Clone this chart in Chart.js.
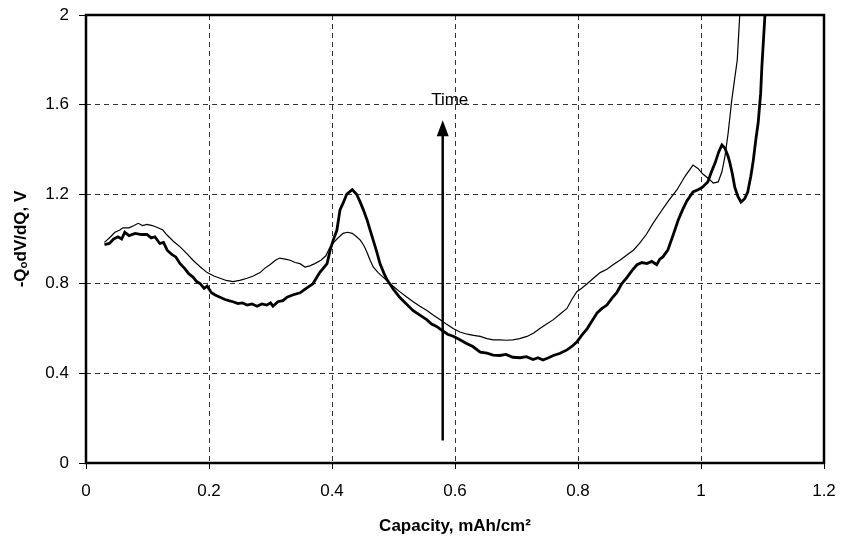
<!DOCTYPE html>
<html>
<head>
<meta charset="utf-8">
<script src="https://cdn.jsdelivr.net/npm/chart.js@4"></script>
<style>
    html, body { margin: 0; padding: 0; background: #fff; }
    #wrap { width: 842px; height: 542px; }
</style>
</head>
<body>
<div id="wrap"><canvas id="dqdv-chart" width="842" height="542"></canvas></div>
<script>
// Thin curve (later cycle)
const capacityThin = [
    0.030, 0.040, 0.047, 0.055, 0.060, 0.070, 0.078, 0.085, 0.092, 0.099,
    0.108, 0.117, 0.125, 0.131, 0.142, 0.153, 0.164, 0.174, 0.186, 0.197,
    0.208, 0.218, 0.228, 0.239, 0.250, 0.262, 0.272, 0.283, 0.291, 0.299,
    0.308, 0.315, 0.324, 0.332, 0.340, 0.348, 0.356, 0.364, 0.372, 0.382,
    0.390, 0.397, 0.403, 0.408, 0.418, 0.425, 0.433, 0.440, 0.446, 0.452,
    0.457, 0.462, 0.467, 0.475, 0.483, 0.491, 0.499, 0.510, 0.522, 0.532,
    0.543, 0.555, 0.565, 0.576, 0.586, 0.597, 0.608, 0.620, 0.630, 0.641,
    0.652, 0.662, 0.673, 0.683, 0.694, 0.705, 0.717, 0.728, 0.738, 0.749,
    0.760, 0.771, 0.782, 0.790, 0.798, 0.806, 0.815, 0.825, 0.836, 0.847,
    0.857, 0.868, 0.880, 0.890, 0.900, 0.911, 0.922, 0.933, 0.947, 0.961,
    0.974, 0.987, 0.995, 1.003, 1.012, 1.020, 1.028, 1.034, 1.039, 1.044,
    1.050, 1.059, 1.063, 1.068
];
const dvdqThin = [
    0.985, 1.010, 1.030, 1.040, 1.050, 1.050, 1.060, 1.070, 1.060, 1.065,
    1.060, 1.050, 1.040, 1.020, 0.990, 0.965, 0.935, 0.905, 0.875, 0.850,
    0.835, 0.825, 0.815, 0.810, 0.815, 0.825, 0.835, 0.850, 0.870, 0.885,
    0.905, 0.915, 0.910, 0.905, 0.895, 0.890, 0.875, 0.880, 0.890, 0.905,
    0.925, 0.965, 0.985, 1.000, 1.025, 1.030, 1.025, 1.010, 0.995, 0.970,
    0.940, 0.905, 0.875, 0.850, 0.830, 0.810, 0.790, 0.765, 0.740, 0.720,
    0.700, 0.680, 0.660, 0.640, 0.620, 0.600, 0.585, 0.575, 0.570, 0.565,
    0.555, 0.550, 0.550, 0.548, 0.550, 0.555, 0.565, 0.580, 0.600, 0.620,
    0.640, 0.665, 0.690, 0.730, 0.765, 0.780, 0.800, 0.825, 0.850, 0.865,
    0.885, 0.905, 0.930, 0.950, 0.980, 1.020, 1.070, 1.115, 1.170, 1.220,
    1.280, 1.330, 1.315, 1.290, 1.270, 1.250, 1.255, 1.300, 1.370, 1.470,
    1.620, 1.800, 2.000, 2.200
];

// Thick curve (earlier cycle)
const capacityThick = [
    0.030, 0.038, 0.045, 0.052, 0.058, 0.063, 0.070, 0.080, 0.090, 0.099,
    0.106, 0.112, 0.120, 0.126, 0.132, 0.140, 0.146, 0.153, 0.160, 0.167,
    0.174, 0.180, 0.186, 0.192, 0.197, 0.204, 0.210, 0.218, 0.226, 0.232,
    0.239, 0.247, 0.254, 0.262, 0.270, 0.278, 0.286, 0.294, 0.300, 0.304,
    0.312, 0.320, 0.327, 0.336, 0.348, 0.358, 0.369, 0.380, 0.392, 0.397,
    0.402, 0.408, 0.413, 0.418, 0.424, 0.433, 0.440, 0.445, 0.451, 0.457,
    0.462, 0.467, 0.473, 0.478, 0.484, 0.489, 0.500, 0.510, 0.521, 0.532,
    0.543, 0.554, 0.562, 0.570, 0.580, 0.588, 0.598, 0.608, 0.618, 0.629,
    0.641, 0.652, 0.662, 0.673, 0.683, 0.694, 0.706, 0.716, 0.727, 0.735,
    0.743, 0.752, 0.760, 0.771, 0.782, 0.790, 0.798, 0.806, 0.815, 0.823,
    0.831, 0.839, 0.847, 0.855, 0.863, 0.871, 0.880, 0.888, 0.896, 0.904,
    0.912, 0.920, 0.928, 0.933, 0.938, 0.946, 0.955, 0.963, 0.970, 0.977,
    0.987, 0.995, 1.002, 1.011, 1.017, 1.023, 1.029, 1.034, 1.039, 1.044,
    1.047, 1.051, 1.055, 1.060, 1.065, 1.071, 1.076, 1.081, 1.085, 1.089,
    1.093, 1.097, 1.099, 1.104, 1.108
];
const dvdqThick = [
    0.975, 0.980, 1.000, 1.010, 1.000, 1.030, 1.015, 1.025, 1.020, 1.020,
    1.005, 1.010, 0.980, 0.985, 0.950, 0.930, 0.920, 0.890, 0.870, 0.845,
    0.830, 0.810, 0.800, 0.780, 0.790, 0.760, 0.750, 0.740, 0.730, 0.725,
    0.720, 0.712, 0.715, 0.705, 0.710, 0.700, 0.710, 0.705, 0.715, 0.700,
    0.720, 0.725, 0.740, 0.750, 0.760, 0.780, 0.800, 0.850, 0.890, 0.950,
    0.995, 1.040, 1.130, 1.160, 1.200, 1.220, 1.200, 1.170, 1.130, 1.085,
    1.040, 0.995, 0.940, 0.890, 0.850, 0.820, 0.775, 0.740, 0.710, 0.680,
    0.660, 0.640, 0.620, 0.610, 0.590, 0.575, 0.565, 0.550, 0.535, 0.520,
    0.495, 0.490, 0.482, 0.480, 0.485, 0.472, 0.470, 0.475, 0.462, 0.470,
    0.460, 0.470, 0.480, 0.490, 0.505, 0.520, 0.540, 0.570, 0.600, 0.635,
    0.670, 0.690, 0.705, 0.735, 0.760, 0.800, 0.830, 0.860, 0.885, 0.895,
    0.890, 0.900, 0.885, 0.910, 0.920, 0.950, 1.020, 1.085, 1.130, 1.170,
    1.210, 1.220, 1.230, 1.255, 1.300, 1.340, 1.390, 1.420, 1.405, 1.370,
    1.340, 1.290, 1.230, 1.190, 1.165, 1.180, 1.210, 1.280, 1.350, 1.440,
    1.520, 1.650, 1.770, 2.000, 2.200
];

// Axis ticks
const xTicks = [0, 0.2, 0.4, 0.6, 0.8, 1, 1.2];
const yTicks = [0, 0.4, 0.8, 1.2, 1.6, 2];

// "Time" arrow, in data units
const arrowX = 0.58;
const arrowFrom = 0.1;
const arrowTo = 1.53;
const arrowLabelY = 1.62;

const FONT = "'Liberation Sans', Arial, sans-serif";

function toPoints(xs, ys) {
    return xs.map((x, i) => ({ x: x, y: ys[i] }));
}

// Solid frame around the plot area plus the time arrow
const framePlugin = {
    id: 'frameAndArrow',
    afterDatasetsDraw(chart) {
        const { ctx, chartArea, scales } = chart;
        ctx.save();

        // arrow
        const ax = scales.x.getPixelForValue(arrowX);
        const yBottom = scales.y.getPixelForValue(arrowFrom);
        const yTip = scales.y.getPixelForValue(arrowTo);
        ctx.strokeStyle = '#000';
        ctx.fillStyle = '#000';
        ctx.lineWidth = 2.5;
        ctx.beginPath();
        ctx.moveTo(ax, yBottom);
        ctx.lineTo(ax, yTip + 12);
        ctx.stroke();
        ctx.beginPath();
        ctx.moveTo(ax, yTip);
        ctx.lineTo(ax - 6, yTip + 16);
        ctx.lineTo(ax + 6, yTip + 16);
        ctx.closePath();
        ctx.fill();

        ctx.font = '17px ' + FONT;
        ctx.textAlign = 'center';
        ctx.textBaseline = 'middle';
        ctx.fillText('Time', ax + 7, scales.y.getPixelForValue(arrowLabelY));

        // frame
        ctx.lineWidth = 2.5;
        ctx.setLineDash([]);
        ctx.strokeRect(chartArea.left, chartArea.top,
            chartArea.right - chartArea.left, chartArea.bottom - chartArea.top);
        ctx.restore();
    }
};

function initChart() {
    const ctx = document.getElementById('dqdv-chart').getContext('2d');
    new Chart(ctx, {
        type: 'line',
        data: {
            datasets: [
                {
                    label: 'thin',
                    data: toPoints(capacityThin, dvdqThin),
                    borderColor: '#000',
                    borderWidth: 1.2,
                    pointRadius: 0,
                    tension: 0
                },
                {
                    label: 'thick',
                    data: toPoints(capacityThick, dvdqThick),
                    borderColor: '#000',
                    borderWidth: 2.8,
                    pointRadius: 0,
                    tension: 0
                }
            ]
        },
        options: {
            responsive: false,
            animation: false,
            layout: { padding: { left: 0, right: 18, top: 15, bottom: 0 } },
            plugins: {
                legend: { display: false },
                tooltip: { enabled: false }
            },
            scales: {
                x: {
                    type: 'linear',
                    min: 0,
                    max: 1.2,
                    afterBuildTicks: function(scale) {
                        scale.ticks = xTicks.map(v => ({ value: v }));
                    },
                    afterFit: function(scale) {
                        scale.height = 79;
                        // let the end labels overhang the plot edges
                        scale.paddingLeft = 0;
                        scale.paddingRight = 0;
                    },
                    ticks: {
                        color: '#000',
                        font: { family: FONT, size: 17 },
                        padding: 12,
                        maxRotation: 0,
                        callback: function(value) {
                            return String(value);
                        }
                    },
                    grid: {
                        color: '#333',
                        lineWidth: 1,
                        tickLength: 6,
                        tickColor: '#000',
                        tickBorderDash: []
                    },
                    border: { display: false, dash: [5, 4] },
                    title: {
                        display: true,
                        text: 'Capacity, mAh/cm²',
                        color: '#000',
                        font: { family: FONT, size: 17, weight: 'bold' },
                        padding: { top: 0, bottom: 5 }
                    }
                },
                y: {
                    type: 'linear',
                    min: 0,
                    max: 2,
                    afterBuildTicks: function(scale) {
                        scale.ticks = yTicks.map(v => ({ value: v }));
                    },
                    afterFit: function(scale) {
                        scale.width = 86;
                        scale.paddingTop = 0;
                        scale.paddingBottom = 0;
                    },
                    ticks: {
                        color: '#000',
                        font: { family: FONT, size: 17 },
                        padding: 10,
                        callback: function(value) {
                            return String(value);
                        }
                    },
                    grid: {
                        color: '#333',
                        lineWidth: 1,
                        tickLength: 7,
                        tickColor: '#000',
                        tickBorderDash: []
                    },
                    border: { display: false, dash: [5, 4] },
                    title: {
                        display: true,
                        text: '-QₒdV/dQ, V',
                        color: '#000',
                        font: { family: FONT, size: 17, weight: 'bold' },
                        padding: { top: 11, bottom: 0 }
                    }
                }
            }
        },
        plugins: [framePlugin]
    });
}

initChart();
</script>
</body>
</html>
